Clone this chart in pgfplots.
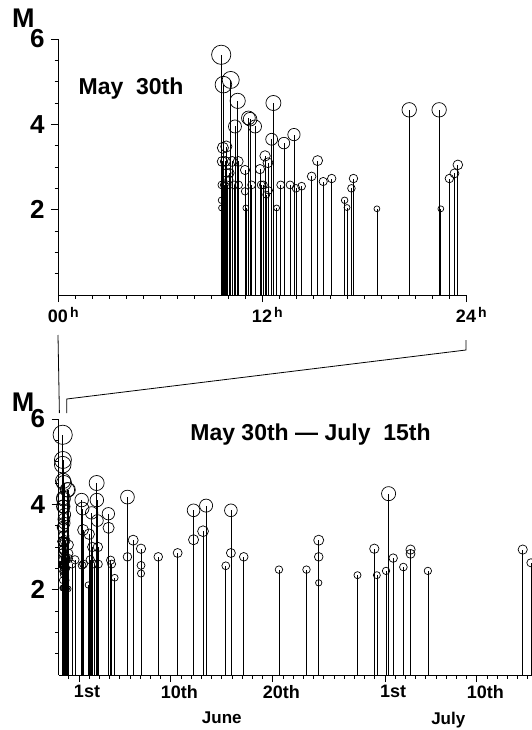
\documentclass[border=0pt]{standalone}
\usepackage{pgfplots}
\pgfplotsset{compat=1.18}
\usepackage{pgfplotstable}
\usepackage{fontspec}
\setmainfont{Liberation Sans}
\usetikzlibrary{calc}

% May 30th: hour of day, magnitude
\pgfplotstableread{
h m
9.60 5.63
9.62 2.04
9.62 2.22
9.64 2.58
9.66 3.13
9.70 3.45
9.73 4.93
9.78 2.58
9.84 3.13
9.90 3.48
9.92 2.86
9.95 2.58
10.05 2.70
10.10 2.86
10.16 5.04
10.25 3.13
10.35 2.58
10.41 3.95
10.57 4.55
10.60 3.13
10.62 2.58
11.00 2.93
11.00 2.43
11.05 2.04
11.20 4.15
11.30 4.12
11.39 2.58
11.59 3.95
11.88 2.95
11.95 2.58
12.08 2.58
12.18 3.26
12.25 2.35
12.35 3.10
12.40 2.45
12.57 3.65
12.67 4.50
12.86 2.04
13.10 2.58
13.29 3.56
13.65 2.58
13.88 3.76
14.00 2.50
14.33 2.55
14.92 2.78
15.27 3.15
15.60 2.66
16.10 2.73
16.86 2.22
17.00 2.05
17.26 2.50
17.38 2.73
18.76 2.02
20.66 4.34
22.42 4.34
22.52 2.02
23.02 2.73
23.32 2.85
23.52 3.05
}\topdata

% later events: days since May 30th 00h, magnitude
\pgfplotstableread{
d m
1.30 2.60
1.60 2.70
2.26 4.10
2.30 2.57
2.35 3.90
2.40 3.40
2.45 2.60
2.90 2.11
3.00 3.30
3.10 2.70
3.24 3.80
3.30 3.00
3.50 2.60
3.73 4.50
3.75 4.10
3.80 3.62
3.85 3.00
3.90 2.60
4.88 3.78
4.90 3.45
5.10 2.69
5.20 2.60
5.50 2.28
6.75 4.17
6.75 2.77
7.31 3.16
8.08 2.96
8.08 2.57
8.08 2.38
9.77 2.77
11.67 2.86
13.23 3.86
13.23 3.17
14.16 3.37
14.46 3.97
16.39 2.56
16.89 3.86
16.89 2.86
18.15 2.77
21.60 2.47
24.30 2.47
25.50 3.16
25.50 2.77
25.50 2.16
29.30 2.34
30.95 2.96
31.20 2.34
32.10 2.44
32.35 4.25
32.80 2.74
33.80 2.53
34.50 2.94
34.50 2.84
36.20 2.44
45.50 2.94
46.30 2.63
}\laterdata

\pgfplotsset{
  quake/.style={ycomb, black, line width=0.7pt, mark=o, scatter,
    visualization depends on={\thisrow{m} \as \mag},
    scatter/use mapped color={draw=black, fill=none},
    scatter/@pre marker code/.append style={/tikz/mark size={1.85*\mag-0.8}, /tikz/line width=0.8pt},
  },
  quakeaxis/.style={
    scale only axis, height=256pt, ymin=0, ymax=6,
    axis lines*=left, axis line style={-, line width=0.9pt},
    clip=false,
    tick align=outside, major tick length=7pt, minor tick length=3.5pt,
    tick style={black, line width=0.8pt},
    ytick={2,4,6}, yticklabels={2,4,6},
    minor ytick={0.5,1,1.5,2.5,3,3.5,4.5,5,5.5},
    yticklabel style={font=\bfseries\fontsize{26}{26}\selectfont, xshift=-3pt},
    xticklabel style={font=\bfseries\fontsize{18}{18}\selectfont},
  },
}

\newcommand{\hsup}{\rlap{\hspace{2pt}\raisebox{5pt}{\fontsize{14}{14}\selectfont h}}}

\begin{document}
\begin{tikzpicture}
\path[use as bounding box] (0,0) rectangle (532pt,-730pt);

% ---- top panel: May 30th ----
\begin{axis}[quakeaxis,
  at={(58pt,-295pt)}, anchor=south west,
  width=408pt, xmin=0, xmax=24,
  xtick={0,12,24}, xticklabels={00\hsup,12\hsup,24\hsup},
  minor xtick={1,...,23},
  xticklabel style={yshift=-2pt},
]
\addplot[quake] table[x=h, y=m] {\topdata};
\coordinate (t0) at (axis cs:0,0);
\coordinate (t24) at (axis cs:24,0);
\node[anchor=south west, inner sep=0pt, font=\bfseries\fontsize{27}{27}\selectfont]
  at (axis cs:0,6) [xshift=-46pt, yshift=11pt] {M};
\node[anchor=base west, inner sep=0pt, font=\bfseries\fontsize{23}{23}\selectfont]
  at (axis cs:1.2,4.7) {May\ \ 30th};
\end{axis}

% ---- bottom panel: May 30th - July 15th ----
\begin{axis}[quakeaxis,
  at={(58.6pt,-675pt)}, anchor=south west,
  width=473.3pt, xmin=0, xmax=46.4,
  xtick={2,11,21,32,41},
  xticklabels={1\rlap{st},10\rlap{th},20\rlap{th},1\rlap{st},10\rlap{th}},
  minor xtick={1,...,46},
]
\addplot[quake] table[x expr=\thisrow{h}/24, y=m] {\topdata};
\addplot[quake] table[x=d, y=m] {\laterdata};
\coordinate (b0) at (axis cs:0,6);
\coordinate (b1) at (axis cs:0.8,6);
\node[anchor=south west, inner sep=0pt, font=\bfseries\fontsize{27}{27}\selectfont]
  at (axis cs:0,6) [xshift=-47pt, yshift=7pt] {M};
\node[anchor=base west, inner sep=0pt, font=\bfseries\fontsize{23}{23}\selectfont]
  at (axis cs:12.9,5.49) {May 30th --- July\ \ 15th};
\node[anchor=north, inner sep=0pt, font=\bfseries\fontsize{17}{17}\selectfont]
  at (axis cs:16,0) [yshift=-37pt] {June};
\node[anchor=north, inner sep=0pt, font=\bfseries\fontsize{17}{17}\selectfont]
  at (axis cs:38.2,0) [yshift=-37pt] {July};
\end{axis}

% zoom connectors
\draw[line width=0.8pt] ($(t0)+(0,-40pt)$) -- ($(b0)+(0.8pt,6pt)$);
\draw[line width=0.8pt] ($(t24)+(0,-45pt)$) -- ($(t24)+(0,-55pt)$)
  -- ($(b1)+(0,20pt)$) -- ($(b1)+(0,6pt)$);
\end{tikzpicture}
\end{document}
